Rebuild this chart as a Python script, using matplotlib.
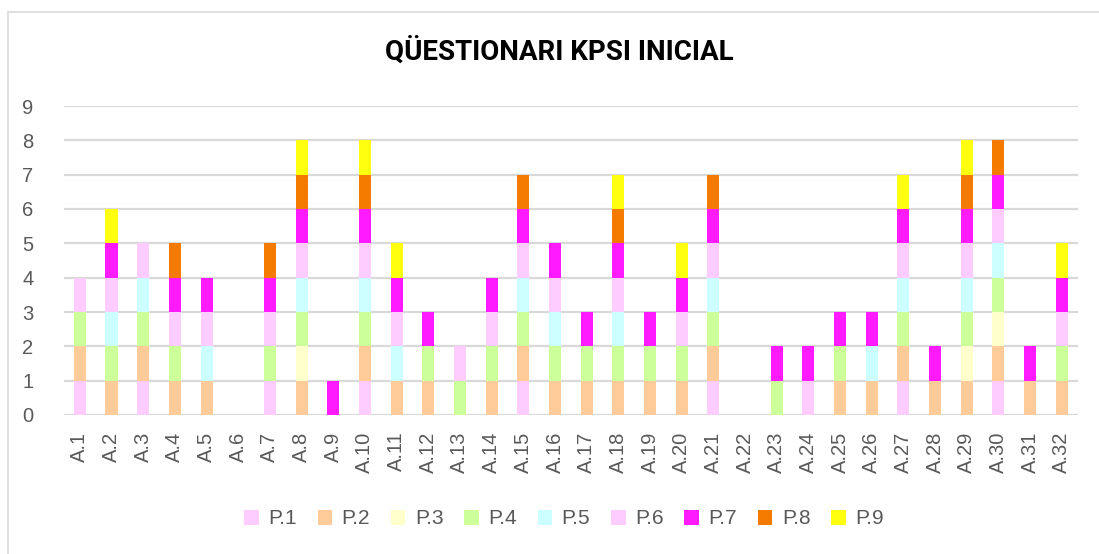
import matplotlib
matplotlib.use("Agg")
import matplotlib.pyplot as plt
from matplotlib.patches import Rectangle
import numpy as np

students = [f"A.{i}" for i in range(1, 33)]
series = ["P.1", "P.2", "P.3", "P.4", "P.5", "P.6", "P.7", "P.8", "P.9"]
colors = ["#FFCCFF", "#FFCC99", "#FFFFCC", "#CCFF99", "#CCFFFF",
          "#FFCCFF", "#FF1AFF", "#F57A00", "#FFFF0F"]

# answers per student: which questions (P.n) were marked
p1 = [1,0,1,0,0,0,1,0,0,1,0,0,0,0,1,0,0,0,0,0,1,0,0,1,0,0,1,0,0,1,0,0]
p2 = [1,1,1,1,1,0,0,1,0,1,1,1,0,1,1,1,1,1,1,1,1,0,0,0,1,1,1,1,1,1,1,1]
p3 = [0,0,0,0,0,0,0,1,0,0,0,0,0,0,0,0,0,0,0,0,0,0,0,0,0,0,0,0,1,1,0,0]
p4 = [1,1,1,1,0,0,1,1,0,1,0,1,1,1,1,1,1,1,1,1,1,0,1,0,1,0,1,0,1,1,0,1]
p5 = [0,1,1,0,1,0,0,1,0,1,1,0,0,0,1,1,0,1,0,0,1,0,0,0,0,1,1,0,1,1,0,0]
p6 = [1,1,1,1,1,0,1,1,0,1,1,0,1,1,1,1,0,1,0,1,1,0,0,0,0,0,1,0,1,1,0,1]
p7 = [0,1,0,1,1,0,1,1,1,1,1,1,0,1,1,1,1,1,1,1,1,0,1,1,1,1,1,1,1,1,1,1]
p8 = [0,0,0,1,0,0,1,1,0,1,0,0,0,0,1,0,0,1,0,0,1,0,0,0,0,0,0,0,1,1,0,0]
p9 = [0,1,0,0,0,0,0,1,0,1,1,0,0,0,0,0,0,1,0,1,0,0,0,0,0,0,1,0,1,0,0,1]
values = [p1, p2, p3, p4, p5, p6, p7, p8, p9]

title = "QÜESTIONARI KPSI INICIAL"

fig = plt.figure(figsize=(10.99, 5.54), dpi=100)
fig.patches.append(Rectangle((8/1099, -0.1), 1.2, 1 - 12/554 + 0.1,
                             transform=fig.transFigure, fill=False,
                             edgecolor="#D9D9D9", linewidth=1.2))
ax = fig.add_axes([64/1099, 1 - 415/554, (1077.6 - 64)/1099, (415 - 106)/554])

x = np.arange(len(students))
bottom = np.zeros(len(students))
handles = []
for name, col, vals in zip(series, colors, values):
    v = np.array(vals, dtype=float)
    h = ax.bar(x, v, width=0.38, bottom=bottom, color=col, label=name,
               edgecolor="none", zorder=3)
    handles.append(h)
    bottom += v

ax.set_xlim(-0.5, len(students) - 0.5)
ax.set_ylim(0, 9)
ax.set_yticks(range(0, 10))
ax.yaxis.grid(True, color="#D9D9D9", linewidth=1.6, zorder=0)
ax.set_axisbelow(True)
for s in ax.spines.values():
    s.set_visible(False)
ax.tick_params(axis="both", length=0, colors="#595959", labelsize=14.5)
ax.tick_params(axis="y", pad=22)
ax.tick_params(axis="x", pad=12)
ax.set_xticks(x)
ax.set_xticklabels(students, rotation=90, fontfamily="Liberation Sans")
for lab in ax.get_yticklabels():
    lab.set_fontfamily("Liberation Sans")

fig.text(559/1099, 1 - 52/554, title, ha="center", va="center",
         fontsize=20, fontweight="bold", fontfamily="Roboto", color="#000000")

leg = fig.legend(handles=handles, labels=series, loc="center",
                 bbox_to_anchor=(564/1099, 1 - 519/554), ncol=9, frameon=False,
                 handlelength=0.7, handleheight=0.7, handletextpad=0.45,
                 columnspacing=1.0, prop={"family": "Liberation Sans", "size": 15})
for t in leg.get_texts():
    t.set_color("#595959")

fig.savefig("out.png", dpi=100)
